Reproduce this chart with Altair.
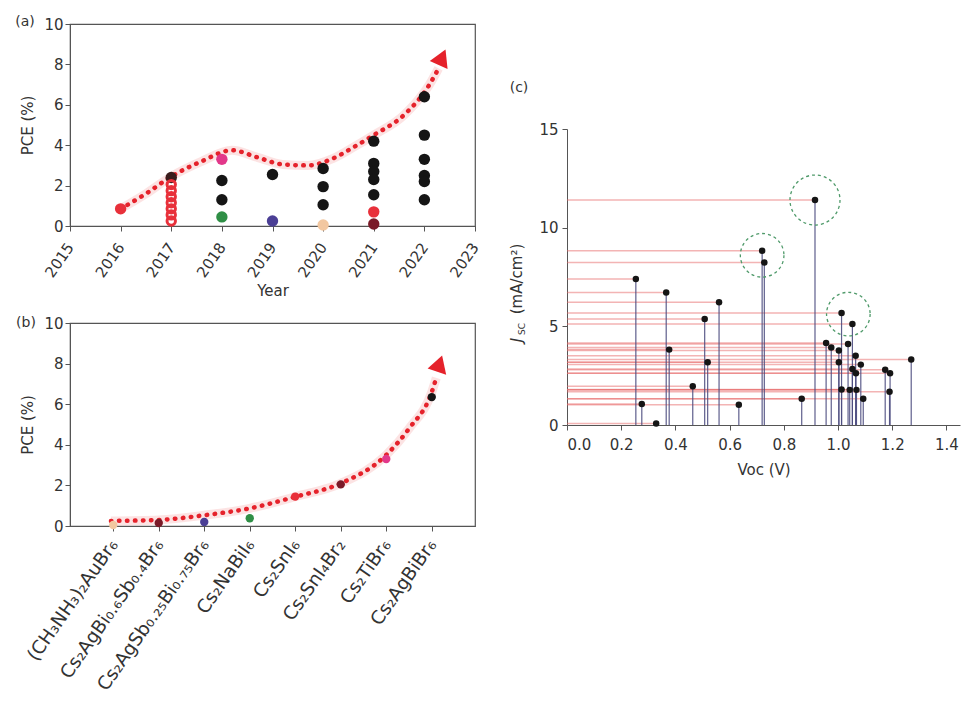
import altair as alt
import pandas as pd

FONT = "DejaVu Sans"

# ---------------- Panel (a): PCE vs year ----------------
a_year = [2016,
          2017, 2017, 2017, 2017, 2017, 2017, 2017, 2017,
          2018, 2018, 2018, 2018,
          2019, 2019,
          2020, 2020, 2020, 2020,
          2021, 2021, 2021, 2021, 2021, 2021, 2021,
          2022, 2022, 2022, 2022, 2022, 2022]
a_pce = [0.85,
         0.25, 0.55, 0.85, 1.15, 1.45, 1.75, 2.05, 2.4,
         3.3, 2.25, 1.3, 0.45,
         2.55, 0.25,
         2.85, 1.95, 1.05, 0.05,
         4.2, 3.1, 2.7, 2.3, 1.55, 0.7, 0.1,
         6.4, 4.5, 3.3, 2.5, 2.2, 1.3]
a_group = ["red",
           "ring", "ring", "ring", "ring", "ring", "ring", "ring", "brown",
           "magenta", "black", "black", "green",
           "black", "purple",
           "black", "black", "black", "beige",
           "black", "black", "black", "black", "black", "red", "darkred",
           "black", "black", "black", "black", "black", "black"]

trend_a_year = [2016, 2016.5, 2017, 2017.6, 2018.2, 2018.7, 2019.2, 2019.7, 2020.2,
                2020.6, 2021, 2021.6, 2022.1, 2022.28]
trend_a_pce = [0.85, 1.6, 2.45, 3.2, 3.75, 3.4, 3.05, 3.0, 3.35,
               3.9, 4.5, 5.5, 7.0, 7.8]
arrow_a_year = [2022.35]
arrow_a_pce = [8.35]

# ---------------- Panel (b): PCE vs material ----------------
b_names = ["(CH₃NH₃)₂AuBr₆", "Cs₂AgBi₀.₆Sb₀.₄Br₆", "Cs₂AgSb₀.₂₅Bi₀.₇₅Br₆", "Cs₂NaBiI₆",
           "Cs₂SnI₆", "Cs₂SnI₄Br₂", "Cs₂TiBr₆", "Cs₂AgBiBr₆"]
b_idx = [0, 1, 2, 3, 4, 5, 6, 7]
b_pce = [0.05, 0.15, 0.2, 0.38, 1.45, 2.05, 3.3, 6.35]
b_group = ["beige", "darkred", "purple", "green", "red", "darkred", "magenta", "black"]

trend_b_idx = [-0.05, 1, 2, 3, 4, 5, 6, 6.5, 7, 7.1]
trend_b_pce = [0.25, 0.3, 0.53, 0.87, 1.44, 2.1, 3.5, 4.8, 6.6, 7.3]
arrow_b_idx = [7.17]
arrow_b_pce = [8.0]

# ---------------- Panel (c): Jsc vs Voc ----------------
voc = [0.254, 0.276, 0.329, 0.366, 0.377, 0.464, 0.508, 0.519, 0.561, 0.634,
       0.720, 0.728, 0.866, 0.915, 0.956, 0.975, 1.003, 1.013, 1.003, 1.037,
       1.053, 1.013, 1.043, 1.068, 1.065, 1.053, 1.066, 1.084, 1.093, 1.174,
       1.192, 1.190, 1.270]
jsc = [7.4, 1.06, 0.08, 6.72, 3.82, 1.96, 5.37, 3.18, 6.22, 1.03,
       8.83, 8.24, 1.33, 11.4, 4.15, 3.93, 3.77, 5.68, 3.18, 4.1,
       5.12, 1.8, 1.78, 1.78, 3.51, 2.84, 2.62, 3.06, 1.33, 2.8,
       2.62, 1.69, 3.32]
circle_voc = [0.915, 0.72, 1.038]
circle_jsc = [11.4, 8.6, 5.62]
circle_size = [2500, 1900, 1900]

grp_names = ["black", "red", "ring", "brown", "magenta", "green", "purple", "beige", "darkred"]
grp_colors = ["#151515", "#e8303a", "#e8303a", "#3a1c1c", "#e2388a", "#2f8f46",
              "#4b3f95", "#f2c7a0", "#7a1a28"]
color_enc = alt.Color("grp:N", scale=alt.Scale(domain=grp_names, range=grp_colors), legend=None)

frame = alt.ViewBackground(stroke="#555555", strokeWidth=1.2)
RED = "#e5222b"

# ---- (a) ----
da = pd.DataFrame({"year": a_year, "pce": a_pce, "grp": a_group})
ta = pd.DataFrame({"year": trend_a_year, "pce": trend_a_pce})
aa = pd.DataFrame({"year": arrow_a_year, "pce": arrow_a_pce})
la = pd.DataFrame({"t": ["(a)"]})

xa = alt.X("year:Q", scale=alt.Scale(domain=[2015, 2023], nice=False, zero=False),
           axis=alt.Axis(values=list(range(2015, 2024)), format="d", labelAngle=-55,
                         labelAlign="right", labelBaseline="middle", title="Year",
                         labelPadding=13, titlePadding=4, labelOverlap=False))
ya = alt.Y("pce:Q", scale=alt.Scale(domain=[0, 10], nice=False),
           axis=alt.Axis(values=[0, 2, 4, 6, 8, 10], title="PCE (%)", titlePadding=8))

a_glow = alt.Chart(ta).mark_line(color="#f7b0b0", strokeWidth=9, opacity=0.35,
                                  interpolate="monotone").encode(x=xa, y=ya)
a_line = alt.Chart(ta).mark_line(color=RED, strokeWidth=4.5, strokeDash=[0.5, 7.5],
                                  strokeCap="round", interpolate="monotone").encode(x=xa, y=ya)
a_pts = alt.Chart(da).transform_filter("datum.grp != 'ring'").mark_circle(
    size=130, opacity=1).encode(x=xa, y=ya, color=color_enc)
a_ring = alt.Chart(da).transform_filter("datum.grp == 'ring'").mark_point(
    size=70, filled=False, strokeWidth=3, opacity=1).encode(x=xa, y=ya, color=color_enc)
a_arrow = alt.Chart(aa).mark_point(shape="triangle-up", filled=True, size=380, angle=24,
                                   color=RED, opacity=1).encode(x=xa, y=ya)
a_lab = alt.Chart(la).mark_text(fontSize=14, font=FONT, color="#333").encode(
    text="t:N", x=alt.value(-45), y=alt.value(-2))

chart_a = alt.layer(a_glow, a_line, a_pts, a_ring, a_arrow, a_lab).properties(
    width=405, height=202, view=frame)

# ---- (b) ----
db = pd.DataFrame({"idx": b_idx, "pce": b_pce, "grp": b_group})
tb = pd.DataFrame({"idx": trend_b_idx, "pce": trend_b_pce})
ab = pd.DataFrame({"idx": arrow_b_idx, "pce": arrow_b_pce})
lb = pd.DataFrame({"t": ["(b)"]})
names_js = "[" + ",".join("'" + n + "'" for n in b_names) + "]"

xb = alt.X("idx:Q", scale=alt.Scale(domain=[-0.95, 7.95], nice=False, zero=False),
           axis=alt.Axis(values=b_idx, labelExpr=names_js + "[datum.value]", labelAngle=-55,
                         labelAlign="right", labelBaseline="middle", title=None,
                         labelFontSize=18.5, labelPadding=10, labelOverlap=False,
                         labelBound=False, labelFlush=False))
yb = alt.Y("pce:Q", scale=alt.Scale(domain=[0, 10], nice=False),
           axis=alt.Axis(values=[0, 2, 4, 6, 8, 10], title="PCE (%)", titlePadding=8))

b_glow = alt.Chart(tb).mark_line(color="#f7b0b0", strokeWidth=9, opacity=0.35,
                                  interpolate="monotone").encode(x=xb, y=yb)
b_line = alt.Chart(tb).mark_line(color=RED, strokeWidth=4.5, strokeDash=[0.5, 7.5],
                                  strokeCap="round", interpolate="monotone").encode(x=xb, y=yb)
b_pts = alt.Chart(db).mark_circle(size=70, opacity=1).encode(x=xb, y=yb, color=color_enc)
b_arrow = alt.Chart(ab).mark_point(shape="triangle-up", filled=True, size=380, angle=18,
                                   color=RED, opacity=1).encode(x=xb, y=yb)
b_lab = alt.Chart(lb).mark_text(fontSize=14, font=FONT, color="#333").encode(
    text="t:N", x=alt.value(-44), y=alt.value(0))

chart_b = alt.layer(b_glow, b_line, b_pts, b_arrow, b_lab).properties(
    width=405, height=203, view=frame)

# ---- (c) ----
dc = pd.DataFrame({"voc": voc, "jsc": jsc})
cc = pd.DataFrame({"voc": circle_voc, "jsc": circle_jsc, "s": circle_size})

xc = alt.X("voc:Q", scale=alt.Scale(domain=[0, 1.45], nice=False),
           axis=alt.Axis(values=[0, 0.2, 0.4, 0.6, 0.8, 1.0, 1.2, 1.4], format=".1f",
                         title="Voc (V)", labelPadding=7, titlePadding=10))
yc = alt.Y("jsc:Q", scale=alt.Scale(domain=[0, 15], nice=False),
           axis=alt.Axis(values=[0, 5, 10, 15], title=None, labelPadding=4))

c_h = alt.Chart(dc).mark_rule(color="#e86a6a", strokeWidth=1.5, opacity=0.5).encode(
    x=xc, x2=alt.datum(0), y=yc)
c_v = alt.Chart(dc).mark_rule(color="#4c4c80", strokeWidth=1.2, opacity=0.9).encode(
    x=xc, y=yc, y2=alt.datum(0))
c_pts = alt.Chart(dc).mark_circle(size=42, color="#151515", opacity=1).encode(x=xc, y=yc)
c_circ = alt.Chart(cc).mark_point(shape="circle", filled=False, color="#4f9a6a",
                                  strokeWidth=1.3, strokeDash=[3, 3], opacity=1).encode(
    x=xc, y=yc, size=alt.Size("s:Q", scale=None, legend=None))
c_t1 = alt.Chart(pd.DataFrame({"t": ["J"]})).mark_text(
    fontSize=15, font=FONT, fontStyle="italic", angle=270, color="#333").encode(
    text="t:N", x=alt.value(-50), y=alt.value(211))
c_t2 = alt.Chart(pd.DataFrame({"t": ["SC"]})).mark_text(
    fontSize=9, font=FONT, angle=270, color="#333").encode(
    text="t:N", x=alt.value(-45), y=alt.value(200))
c_t3 = alt.Chart(pd.DataFrame({"t": ["(mA/cm²)"]})).mark_text(
    fontSize=15, font=FONT, angle=270, color="#333").encode(
    text="t:N", x=alt.value(-50), y=alt.value(150))

chart_c = alt.layer(c_h, c_v, c_pts, c_circ, c_t1, c_t2, c_t3).properties(width=393, height=296)

spacer = alt.Chart(pd.DataFrame({"t": ["(c)"]})).mark_text(
    fontSize=14, font=FONT, color="#333").encode(
    text="t:N", x=alt.value(-48), y=alt.value(64)).properties(width=393, height=96)

left = alt.vconcat(chart_a, chart_b, spacing=15)
right = alt.vconcat(spacer, chart_c, spacing=0)

chart = alt.hconcat(left, right, spacing=26).properties(
    padding={"left": 14, "top": 14, "right": 0, "bottom": 0}
).configure_view(stroke="transparent").configure_axis(
    labelFont=FONT, titleFont=FONT, labelFontSize=15, titleFontSize=15,
    titleFontWeight="normal", labelColor="#333", titleColor="#333",
    domainColor="#555", tickColor="#555", grid=False, tickSize=5
)

chart.save("out.html", embed_options={"renderer": "svg", "actions": False})
